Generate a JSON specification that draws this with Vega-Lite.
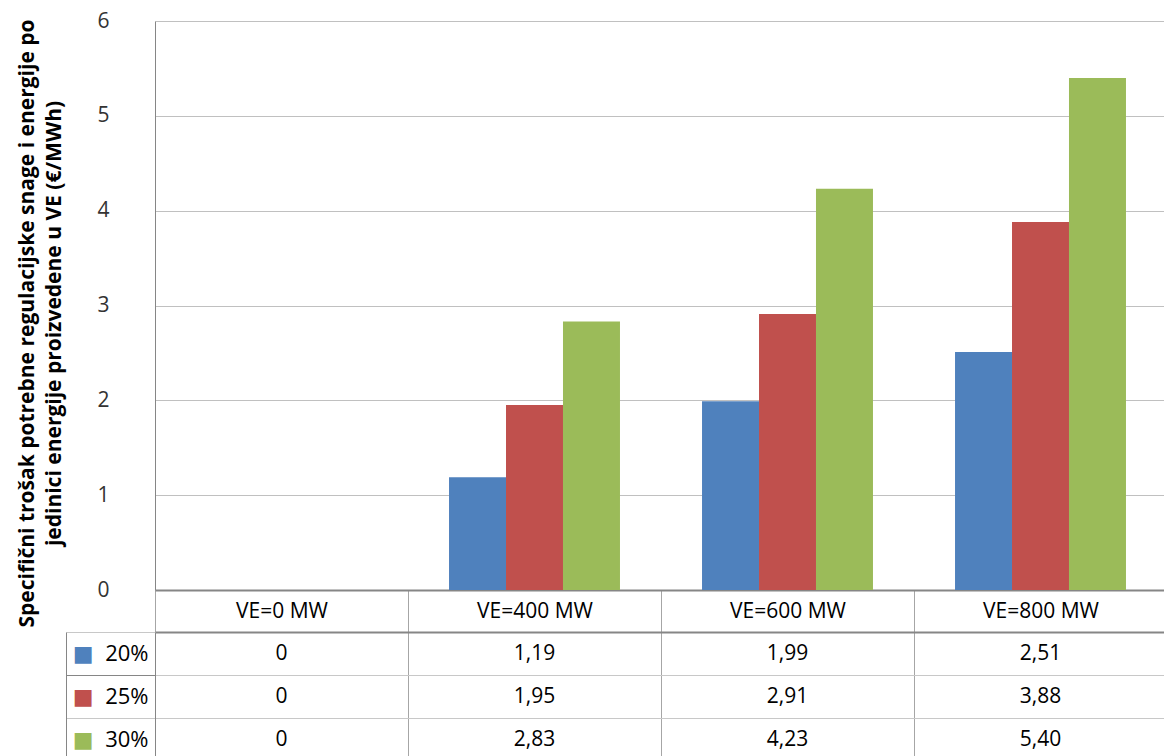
{
  "$schema": "https://vega.github.io/schema/vega-lite/v6.json",
  "padding": {"left": 16, "top": 10, "right": 0, "bottom": 0},
  "background": "white",
  "bounds": "flush",
  "spacing": 42,
  "config": {
    "font": "Open Sans",
    "view": {"stroke": null},
    "locale": {"number": {"decimal": ",", "thousands": ".", "grouping": [3], "currency": ["", " €"]}}
  },
  "data": {
    "values": [
      {"cat": "VE=0 MW", "series": "20%", "value": 0},
      {"cat": "VE=0 MW", "series": "25%", "value": 0},
      {"cat": "VE=0 MW", "series": "30%", "value": 0},
      {"cat": "VE=400 MW", "series": "20%", "value": 1.19},
      {"cat": "VE=400 MW", "series": "25%", "value": 1.95},
      {"cat": "VE=400 MW", "series": "30%", "value": 2.83},
      {"cat": "VE=600 MW", "series": "20%", "value": 1.99},
      {"cat": "VE=600 MW", "series": "25%", "value": 2.91},
      {"cat": "VE=600 MW", "series": "30%", "value": 4.23},
      {"cat": "VE=800 MW", "series": "20%", "value": 2.51},
      {"cat": "VE=800 MW", "series": "25%", "value": 3.88},
      {"cat": "VE=800 MW", "series": "30%", "value": 5.40}
    ]
  },
  "vconcat": [
    {
      "width": 1012,
      "height": 569,
      "mark": {"type": "bar"},
      "encoding": {
        "x": {
          "field": "cat", "type": "nominal",
          "sort": ["VE=0 MW", "VE=400 MW", "VE=600 MW", "VE=800 MW"],
          "scale": {"paddingInner": 0, "paddingOuter": 0},
          "axis": {
            "title": null, "tickBand": "extent", "tickSize": 42, "tickColor": "#a6a6a6",
            "labelPadding": -32, "labelAngle": 0, "labelFontSize": 21, "labelColor": "#000",
            "domainColor": "#868686", "domainWidth": 2
          }
        },
        "xOffset": {
          "field": "series", "type": "nominal", "sort": ["20%", "25%", "30%"],
          "scale": {"paddingInner": 0, "paddingOuter": 0.72}
        },
        "y": {
          "field": "value", "type": "quantitative",
          "scale": {"domain": [0, 6], "nice": false},
          "axis": {
            "values": [0, 1, 2, 3, 4, 5, 6], "format": "d",
            "title": ["Specifični trošak potrebne regulacijske snage i energije po", "jedinici energije proizvedene u VE (€/MWh)"],
            "titleFontSize": 21, "titleFontWeight": "bold", "titleLineHeight": 27, "titlePadding": 32, "titleColor": "#000",
            "titleY": 302,
            "labelFontSize": 21, "labelPadding": 46, "labelColor": "#333",
            "ticks": false, "grid": true, "gridColor": "#c0c0c0", "domainColor": "#868686"
          }
        },
        "color": {
          "field": "series", "type": "nominal",
          "scale": {"domain": ["20%", "25%", "30%"], "range": ["#4f81bd", "#c0504d", "#9bbb59"]},
          "legend": null
        }
      }
    },
    {
      "width": 1012,
      "height": 129,
      "layer": [
        {
          "mark": {"type": "text", "fontSize": 21, "color": "#000"},
          "encoding": {
            "x": {
              "field": "cat", "type": "nominal",
              "sort": ["VE=0 MW", "VE=400 MW", "VE=600 MW", "VE=800 MW"],
              "scale": {"paddingInner": 0, "paddingOuter": 0},
              "axis": {
                "orient": "top", "title": null, "labels": false, "ticks": false,
                "domain": true, "domainColor": "#868686", "domainWidth": 2,
                "grid": true, "tickBand": "extent", "gridColor": "#a6a6a6"
              }
            },
            "y": {
              "field": "series", "type": "nominal", "sort": ["20%", "25%", "30%"],
              "scale": {"paddingInner": 0, "paddingOuter": 0},
              "axis": {
                "title": null, "tickBand": "extent", "tickSize": 89,
                "tickColor": {"condition": {"test": "datum.value === '20%'", "value": "#868686"}, "value": "#c8c8c8"},
                "labelPadding": -82, "labelFontSize": 22, "labelColor": "#000",
                "grid": true, "gridColor": "#c8c8c8", "domainColor": "#868686"
              }
            },
            "text": {
              "condition": {"test": "datum.value === 0", "value": "0"},
              "field": "value", "type": "quantitative", "format": ".2f"
            }
          }
        },
        {
          "mark": {"type": "text", "text": " "},
          "encoding": {
            "y": {
              "field": "series", "type": "nominal", "sort": ["20%", "25%", "30%"],
              "axis": {
                "orient": "left", "offset": 89, "title": null, "ticks": false, "grid": false,
                "domainColor": "#868686", "labelExpr": "'■'", "labelPadding": -27,
                "labelFont": "DejaVu Sans", "labelFontSize": 22,
                "labelColor": {"condition": [{"test": "datum.value === '20%'", "value": "#4f81bd"}, {"test": "datum.value === '25%'", "value": "#c0504d"}], "value": "#9bbb59"}
              }
            }
          }
        }
      ],
      "resolve": {"axis": {"y": "independent"}}
    }
  ]
}
